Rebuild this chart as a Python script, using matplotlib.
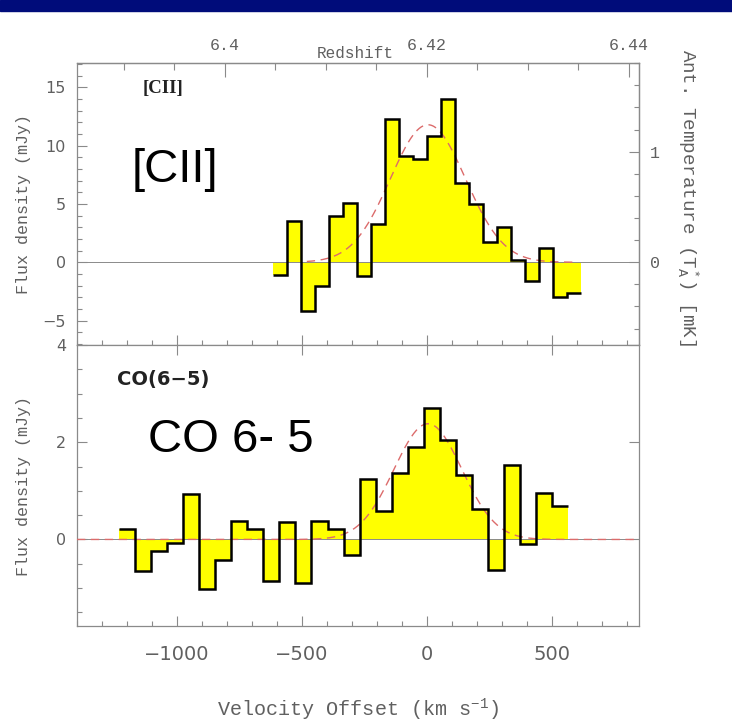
import numpy as np
import matplotlib
matplotlib.use('Agg')
import matplotlib.pyplot as plt
from matplotlib.patches import Rectangle
from matplotlib.ticker import MultipleLocator

plt.rcParams['mathtext.fontset'] = 'custom'
plt.rcParams['mathtext.rm'] = 'Liberation Mono'
plt.rcParams['mathtext.it'] = 'Liberation Mono'
plt.rcParams['mathtext.default'] = 'rm'

# [CII] spectrum (mJy), channels of ~56 km/s starting at -616 km/s
cii_v_start = -616.0
cii_chan = 56.0
cii_flux = [-1.1, 3.5, -4.2, -2.0, 4.0, 5.1, -1.2, 3.3, 12.3, 9.1, 8.85,
            10.8, 14.0, 6.8, 5.0, 1.7, 3.0, 0.2, -1.6, 1.25, -2.95, -2.65]
cii_fit_peak = 11.8
cii_fit_center = 5.0
cii_fit_fwhm = 355.0
cii_fit_range = (-480, 590)

# CO(6-5) spectrum (mJy), channels of ~64 km/s starting at -1233 km/s
co_v_start = -1233.0
co_chan = 64.3
co_flux = [0.22, -0.64, -0.23, -0.08, 0.93, -1.02, -0.42, 0.38, 0.22, -0.85,
           0.35, -0.9, 0.38, 0.22, -0.32, 1.24, 0.58, 1.36, 1.91, 2.70, 2.05,
           1.33, 0.63, -0.63, 1.54, -0.1, 0.95, 0.69]
co_fit_peak = 2.38
co_fit_center = 5.0
co_fit_fwhm = 320.0
co_fit_range = (-1400, 850)

z0 = 6.42
c_kms = 299792.458
mjy_per_mk = 9.49

gray = '#8a8a8a'
tcol = '#606060'
mono = 'Liberation Mono'
red = '#dc6b6b'


def v2z(v):
    return z0 + np.asarray(v) * (1 + z0) / c_kms


def z2v(z):
    return (np.asarray(z) - z0) * c_kms / (1 + z0)


def gauss(v, peak, center, fwhm):
    sig = fwhm / 2.3548
    return peak * np.exp(-0.5 * ((v - center) / sig) ** 2)


def style(ax):
    for s in ax.spines.values():
        s.set_color(gray)
        s.set_linewidth(0.9)
    ax.tick_params(which='both', direction='in', color=gray, width=0.8,
                   labelcolor=tcol)
    ax.tick_params(which='major', length=7)
    ax.tick_params(which='minor', length=3.5)


def draw_spec(ax, v_start, chan, flux, peak, center, fwhm, vrange):
    edges = v_start + chan * np.arange(len(flux) + 1)
    ax.stairs(flux, edges, baseline=0, fill=True, color='#ffff00', lw=0, zorder=1)
    ax.axhline(0, color=gray, lw=0.7, zorder=2)
    vv = np.linspace(vrange[0], vrange[1], 400)
    ax.plot(vv, gauss(vv, peak, center, fwhm), color=red, lw=1.0,
            dashes=(6, 4), zorder=3)
    ax.stairs(flux, edges, baseline=None, color='black', lw=1.8, zorder=4)


fig = plt.figure(figsize=(7.32, 7.28), dpi=100)
fig.patches.append(Rectangle((0, 1 - 11 / 728), 1, 11 / 728,
                             transform=fig.transFigure, color='#000c7a'))

ax1 = fig.add_axes([77 / 732, 1 - 345 / 728, 562 / 732, 282 / 728])
ax2 = fig.add_axes([77 / 732, 1 - 626 / 728, 562 / 732, 281 / 728])

# top panel: [CII]
draw_spec(ax1, cii_v_start, cii_chan, cii_flux, cii_fit_peak, cii_fit_center,
          cii_fit_fwhm, cii_fit_range)
ax1.set_xlim(-1400, 850)
ax1.set_ylim(-7.1, 17.1)
style(ax1)
ax1.tick_params(top=False, right=False, labelbottom=False)
ax1.tick_params(axis='y', labelsize=11.5, pad=8)
ax1.xaxis.set_major_locator(MultipleLocator(500))
ax1.xaxis.set_minor_locator(MultipleLocator(100))
ax1.yaxis.set_major_locator(MultipleLocator(5))
ax1.yaxis.set_minor_locator(MultipleLocator(1))

secx = ax1.secondary_xaxis('top', functions=(v2z, z2v))
secx.set_xticks([6.40, 6.42, 6.44], labels=['6.4', '6.42', '6.44'])
secx.xaxis.set_minor_locator(MultipleLocator(0.005))
style(secx)
secx.tick_params(which='major', length=10, pad=7)
secx.tick_params(which='minor', length=5)
for lab in secx.get_xticklabels():
    lab.set_fontfamily(mono)
    lab.set_fontsize(12)

secy = ax1.secondary_yaxis('right', functions=(lambda y: y / mjy_per_mk,
                                               lambda t: t * mjy_per_mk))
secy.set_yticks([0, 1], labels=['0', '1'])
secy.yaxis.set_minor_locator(MultipleLocator(0.2))
style(secy)
secy.tick_params(pad=8)
for lab in secy.get_yticklabels():
    lab.set_fontfamily(mono)
    lab.set_fontsize(12)

ax1.text(-0.096, 0.5, 'Flux density (mJy)', transform=ax1.transAxes,
         rotation=90, ha='center', va='center', family=mono, fontsize=12,
         color=tcol)
ax1.text(1.087, 0.523, r'Ant. Temperature (T$_A^*$) [mK]', transform=ax1.transAxes,
         rotation=-90, ha='center', va='center', family=mono, fontsize=13.8,
         color=tcol)
fig.text(355 / 732, 1 - 53 / 728, 'Redshift', ha='center', va='center',
         family=mono, fontsize=11.5, color=tcol)
ax1.text(0.117, 0.911, '[CII]', transform=ax1.transAxes, ha='left',
         va='center', family='Liberation Serif', fontweight='bold',
         fontsize=13.5, color='#222222')
ax1.text(0.098, 0.579, '[CII]', transform=ax1.transAxes, ha='left',
         va='baseline', family='Liberation Sans', fontsize=34, color='black')

# bottom panel: CO(6-5)
draw_spec(ax2, co_v_start, co_chan, co_flux, co_fit_peak, co_fit_center,
          co_fit_fwhm, co_fit_range)
ax2.set_xlim(-1400, 850)
ax2.set_ylim(-1.78, 4.0)
style(ax2)
ax2.tick_params(top=True, right=True)
ax2.tick_params(axis='x', labelsize=14, pad=14)
ax2.tick_params(axis='y', labelsize=11.5, pad=8)
ax2.xaxis.set_major_locator(MultipleLocator(500))
ax2.xaxis.set_minor_locator(MultipleLocator(100))
ax2.yaxis.set_major_locator(MultipleLocator(2))
ax2.yaxis.set_minor_locator(MultipleLocator(0.5))

ax2.text(-0.096, 0.5, 'Flux density (mJy)', transform=ax2.transAxes,
         rotation=90, ha='center', va='center', family=mono, fontsize=12,
         color=tcol)
ax2.text(0.5, -0.252, r'Velocity Offset (km s$^{-1}$)', transform=ax2.transAxes,
         ha='center', va='top', family=mono, fontsize=14.5, color=tcol)
ax2.text(0.071, 0.879, 'CO(6\u22125)', transform=ax2.transAxes, ha='left',
         va='center', fontweight='bold', fontsize=14, color='#222222')
ax2.text(0.126, 0.620, 'CO 6- 5', transform=ax2.transAxes, ha='left',
         va='baseline', family='Liberation Sans', fontsize=34, color='black')

fig.savefig('out.png', dpi=100)
